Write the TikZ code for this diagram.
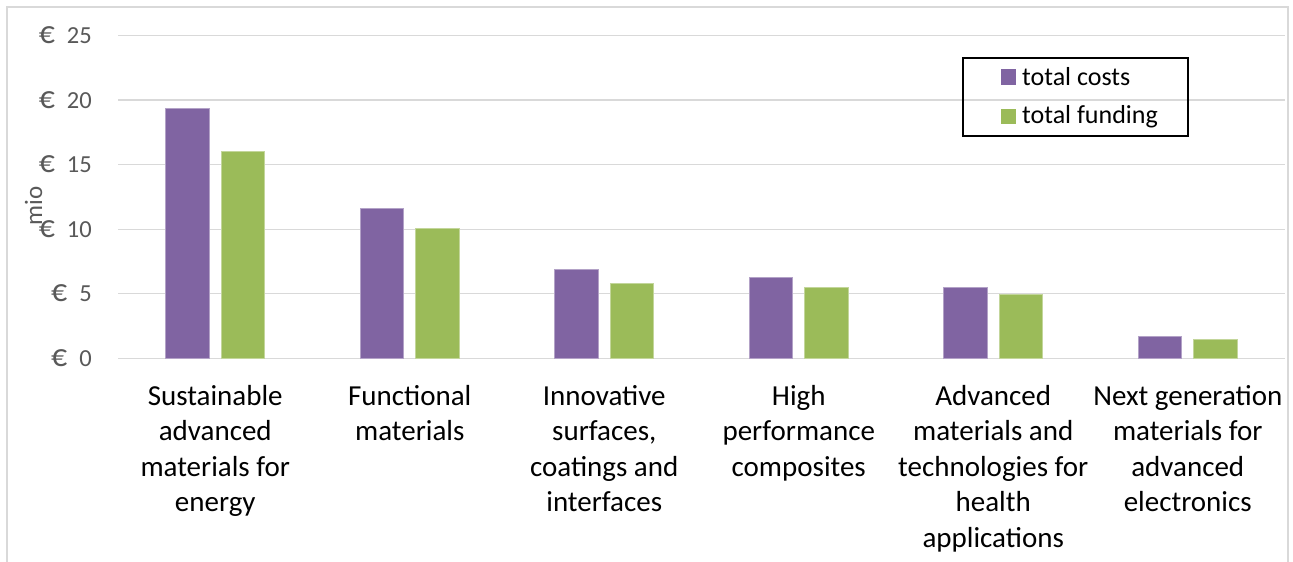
\documentclass[tikz,border=0pt]{standalone}
\usepackage{fontspec}
\setmainfont{Carlito}
\definecolor{cpurple}{HTML}{8064A2}
\definecolor{cgreen}{HTML}{9BBB59}
\definecolor{cgrid}{HTML}{D9D9D9}
\definecolor{ctext}{HTML}{595959}
\tikzset{
  gridline/.style={cgrid, line width=1.4pt},
  framebox/.style={cgrid, line width=1.3pt},
  barP/.style={fill=cpurple, draw=cpurple!60!white, line width=0.7pt},
  barG/.style={fill=cgreen, draw=cgreen!60!white, line width=0.7pt},
  ticklabel/.style={anchor=base east, inner sep=0pt, text=ctext, font=\fontsize{24.5}{29}\selectfont},
  catlabel/.style={anchor=north, inner sep=0pt, align=center, font=\fontsize{29}{35.5}\selectfont},
  legtext/.style={anchor=base west, inner sep=0pt, font=\fontsize{26}{31}\selectfont},
}
\begin{document}
\begin{tikzpicture}[x=1pt,y=-1pt]
\useasboundingbox (0,0) rectangle (1293,562);
\fill[white] (0,0) rectangle (1293,562);
\draw[framebox] (7,562) -- (7,7) -- (1288,7) -- (1288,562);
% gridlines and tick labels
\foreach \v/\lab in {0/0,5/5,10/10,15/15,20/20,25/25}{
  \draw[gridline] (118,{358.3-12.91*\v}) -- (1285,{358.3-12.91*\v});
  \node[ticklabel] (t\v) at (92,{366.3-12.91*\v}) {\scalebox{1.3}{€}\hspace{12pt}\lab};
}
% axis title
\node[rotate=90, anchor=base, inner sep=0pt, text=ctext, font=\fontsize{25}{29}\selectfont] (mio) at (42,206) {mio};
% bars
\foreach \i/\p/\g in {1/19.39/16.06, 2/11.64/10.09, 3/6.92/5.81, 4/6.24/5.50, 5/5.47/4.96, 6/1.70/1.49}{
  \pgfmathsetmacro{\c}{118+194.5*(\i-0.5)}
  \draw[barP] ({\c-49.5},358.3) rectangle ({\c-6},{358.3-12.91*\p});
  \draw[barG] ({\c+6},358.3) rectangle ({\c+49.5},{358.3-12.91*\g});
}
% category labels (first baseline at y=405)
\node[catlabel] (c1) at (215.25,380.15) {\strut Sustainable\\advanced\\materials for\\energy};
\node[catlabel] (c2) at (409.75,380.15) {\strut Functional\\materials};
\node[catlabel] (c3) at (604.25,380.15) {\strut Innovative\\surfaces,\\coatings and\\interfaces};
\node[catlabel] (c4) at (798.75,380.15) {\strut High\\performance\\composites};
\node[catlabel] (c5) at (993.25,380.15) {\strut Advanced\\materials and\\technologies for\\health\\applications};
\node[catlabel] (c6) at (1187.75,380.15) {\strut Next generation\\materials for\\advanced\\electronics};
% legend
\draw[black, line width=1.3pt] (963,58) rectangle (1188,136);
\fill[cpurple] (1001,69) rectangle (1016,85);
\fill[cgreen] (1001,109) rectangle (1016,124);
\node[legtext] (l1) at (1022,85) {total costs};
\node[legtext] (l2) at (1022,123.5) {total funding};
\end{tikzpicture}
\end{document}
